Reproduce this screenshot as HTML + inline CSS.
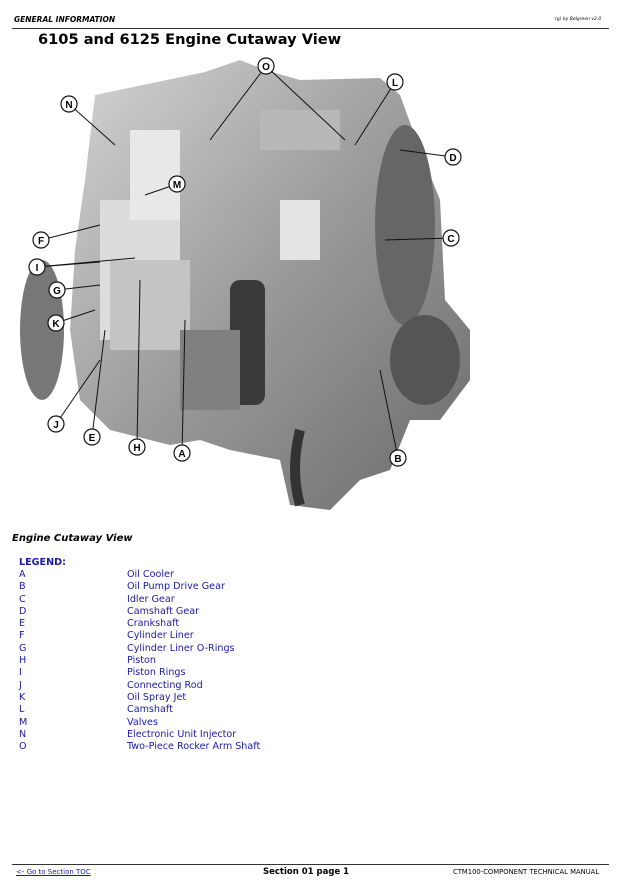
<!DOCTYPE html>
<html><head><meta charset="utf-8"><style>
body{margin:0;width:622px;height:893px;background:#fff;position:relative;font-family:"DejaVu Sans","Liberation Sans",sans-serif;overflow:hidden}
.a{position:absolute;white-space:nowrap}
.lg{color:#1a1aa6;font-size:9.6px;line-height:12.3px}
</style></head><body>
<div class="a" style="left:14px;top:15px;font-size:7.5px;font-weight:bold;font-style:italic">GENERAL INFORMATION</div>
<div class="a" style="left:555px;top:17px;font-size:4.5px;font-style:italic">(g) by Belgreen v2.0</div>
<div class="a" style="left:12px;top:28px;width:597px;height:1px;background:#333"></div>
<div class="a" style="left:38px;top:31px;font-size:14.6px;font-weight:bold">6105 and 6125 Engine Cutaway View</div>
<svg class="a" style="left:0;top:0" width="622" height="520">
<defs><linearGradient id="g" x1="0" y1="0" x2="1" y2="1"><stop offset="0" stop-color="#d4d4d4"/><stop offset=".5" stop-color="#9a9a9a"/><stop offset="1" stop-color="#6a6a6a"/></linearGradient></defs>
<polygon points="95,95 205,72 240,60 265,70 300,80 380,78 400,95 420,150 440,200 445,300 470,330 470,380 440,420 410,420 390,470 360,480 330,510 290,505 280,460 230,450 200,440 170,445 150,440 110,430 80,400 70,330 75,250 85,180" fill="url(#g)"/>
<ellipse cx="42" cy="330" rx="22" ry="70" fill="#777"/>
<ellipse cx="405" cy="225" rx="30" ry="100" fill="#666"/>
<rect x="100" y="200" width="80" height="140" fill="#dcdcdc"/>
<rect x="130" y="130" width="50" height="90" fill="#e8e8e8"/>
<rect x="230" y="280" width="35" height="125" rx="10" fill="#3a3a3a"/>
<rect x="280" y="200" width="40" height="60" fill="#e4e4e4"/>
<rect x="110" y="260" width="80" height="90" fill="#c4c4c4"/>
<ellipse cx="425" cy="360" rx="35" ry="45" fill="#555"/>
<rect x="180" y="330" width="60" height="80" fill="#808080"/>
<rect x="260" y="110" width="80" height="40" fill="#b8b8b8"/>
<path d="M300,430 q-10,40 0,75" stroke="#333" stroke-width="10" fill="none"/>
<g stroke="#111" stroke-width="1" fill="none">
<line x1="266" y1="66" x2="210" y2="140"/><line x1="266" y1="66" x2="345" y2="140"/>
<line x1="395" y1="82" x2="355" y2="145"/><line x1="69" y1="104" x2="115" y2="145"/>
<line x1="453" y1="157" x2="400" y2="150"/><line x1="177" y1="184" x2="145" y2="195"/>
<line x1="41" y1="240" x2="100" y2="225"/><line x1="451" y1="238" x2="385" y2="240"/>
<line x1="37" y1="267" x2="100" y2="262"/><line x1="37" y1="267" x2="135" y2="258"/>
<line x1="57" y1="290" x2="100" y2="285"/><line x1="56" y1="323" x2="95" y2="310"/>
<line x1="56" y1="424" x2="100" y2="360"/><line x1="92" y1="437" x2="105" y2="330"/>
<line x1="137" y1="447" x2="140" y2="280"/><line x1="182" y1="453" x2="185" y2="320"/>
<line x1="398" y1="458" x2="380" y2="370"/>
</g>
<g font-family="Liberation Sans,sans-serif" font-size="10" font-weight="bold" text-anchor="middle">
<g fill="#fff" stroke="#111" stroke-width="1.2">
<circle cx="266" cy="66" r="8"/><circle cx="395" cy="82" r="8"/><circle cx="69" cy="104" r="8"/><circle cx="453" cy="157" r="8"/><circle cx="177" cy="184" r="8"/><circle cx="41" cy="240" r="8"/><circle cx="451" cy="238" r="8"/><circle cx="37" cy="267" r="8"/><circle cx="57" cy="290" r="8"/><circle cx="56" cy="323" r="8"/><circle cx="56" cy="424" r="8"/><circle cx="92" cy="437" r="8"/><circle cx="137" cy="447" r="8"/><circle cx="182" cy="453" r="8"/><circle cx="398" cy="458" r="8"/>
</g>
<text x="266" y="70">O</text><text x="395" y="86">L</text><text x="69" y="108">N</text><text x="453" y="161">D</text><text x="177" y="188">M</text><text x="41" y="244">F</text><text x="451" y="242">C</text><text x="37" y="271">I</text><text x="57" y="294">G</text><text x="56" y="327">K</text><text x="56" y="428">J</text><text x="92" y="441">E</text><text x="137" y="451">H</text><text x="182" y="457">A</text><text x="398" y="462">B</text>
</g>
</svg>
<div class="a" style="left:12px;top:533px;font-size:10px;font-weight:bold;font-style:italic">Engine Cutaway View</div>
<div class="a lg" style="left:19px;top:557px;font-weight:bold">LEGEND:</div>
<div class="a lg" style="left:19px;top:569px">A<br>B<br>C<br>D<br>E<br>F<br>G<br>H<br>I<br>J<br>K<br>L<br>M<br>N<br>O</div>
<div class="a lg" style="left:127px;top:569px">Oil Cooler<br>Oil Pump Drive Gear<br>Idler Gear<br>Camshaft Gear<br>Crankshaft<br>Cylinder Liner<br>Cylinder Liner O-Rings<br>Piston<br>Piston Rings<br>Connecting Rod<br>Oil Spray Jet<br>Camshaft<br>Valves<br>Electronic Unit Injector<br>Two-Piece Rocker Arm Shaft</div>
<div class="a" style="left:12px;top:864px;width:597px;height:1px;background:#333"></div>
<div class="a" style="left:16px;top:868px;font-size:7px;color:#1a1aa6;text-decoration:underline">&lt;- Go to Section TOC</div>
<div class="a" style="left:263px;top:867px;font-size:8.5px;font-weight:bold">Section 01 page 1</div>
<div class="a" style="left:453px;top:868px;font-size:6.8px">CTM100-COMPONENT TECHNICAL MANUAL</div>
</body></html>
